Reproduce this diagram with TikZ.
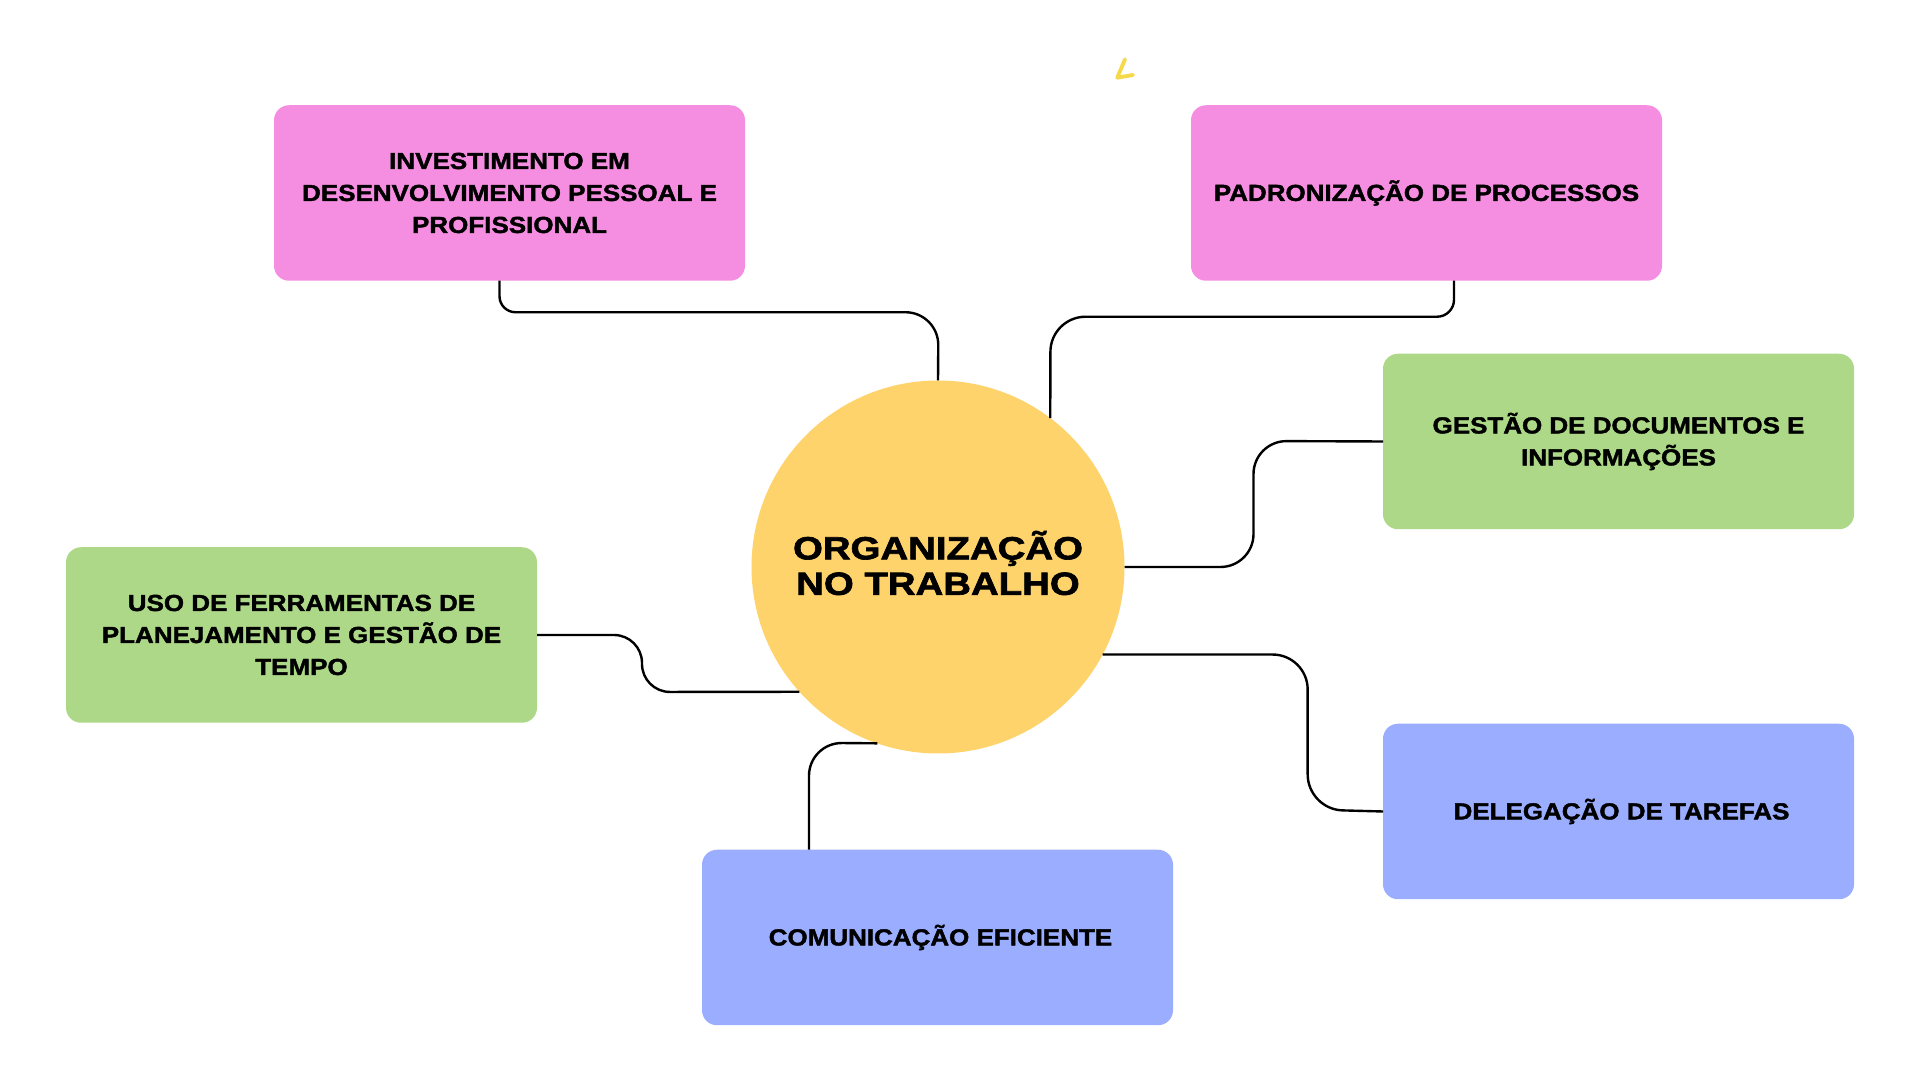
\documentclass[tikz,border=0pt]{standalone}
\usepackage{fontspec}
\newfontfamily\boxfont[FakeStretch=1.12,FakeBold=1.8]{Liberation Sans Bold}
\newfontfamily\hubfont[FakeStretch=1.2,FakeBold=2]{Liberation Sans Bold}
\usetikzlibrary{calc}
\definecolor{pink}{HTML}{F58EE1}
\definecolor{leaf}{HTML}{ACD887}
\definecolor{periwinkle}{HTML}{9BADFF}
\definecolor{sun}{HTML}{FFD36B}
\definecolor{scribble}{HTML}{F5D94A}

\begin{document}
\begin{tikzpicture}[
  font=\boxfont,
  card/.style={rounded corners=1.5mm, minimum width=4.71cm, minimum height=1.755cm,
               inner sep=0pt, outer sep=0pt, align=center, text=black,
               font=\boxfont\fontsize{6.6}{9.1}\selectfont},
  pinkcard/.style={card, fill=pink},
  leafcard/.style={card, fill=leaf},
  bluecard/.style={card, fill=periwinkle},
  hub/.style={circle, fill=sun, minimum size=3.73cm, inner sep=0pt, outer sep=0pt},
  hubtext/.style={align=center, inner sep=0pt, text=black,
                  font=\hubfont\fontsize{9.1}{10.1}\selectfont},
  link/.style={line width=0.68pt, draw=black}
]
\useasboundingbox (0,0) rectangle (19.2,10.8);

\node[hub] (hub) at (9.38,5.13) {};
\node[hubtext] (title) at (9.38,5.17) {ORGANIZAÇÃO\\NO TRABALHO};

\node[pinkcard] (invest) at (5.095,8.87)
  {INVESTIMENTO EM\\DESENVOLVIMENTO PESSOAL E\\PROFISSIONAL};
\node[pinkcard] (padrao) at (14.265,8.87) {PADRONIZAÇÃO DE PROCESSOS};
\node[leafcard] (docs) at (16.185,6.385) {GESTÃO DE DOCUMENTOS E\\INFORMAÇÕES};
\node[leafcard] (tools) at (3.015,4.45)
  {USO DE FERRAMENTAS DE\\PLANEJAMENTO E GESTÃO DE\\TEMPO};
\node[bluecard] (deleg) at (16.185,2.685) {\hspace*{0.06cm}DELEGAÇÃO DE TAREFAS};
\node[bluecard] (comms) at (9.375,1.425) {\hspace*{0.06cm}COMUNICAÇÃO EFICIENTE};

\draw[link, rounded corners=1.6mm] ($(invest.south)+(-0.10,0)$) -- ++(0,-0.315)
  [rounded corners=3.3mm] -- ++(4.39,0) -- (hub.north);
\draw[link, rounded corners=1.7mm] ($(padrao.south)+(0.275,0)$) -- ++(0,-0.36)
  [rounded corners=3.5mm] -- ++(-4.035,0) -- (hub.53);
\draw[link, rounded corners=3.3mm] (hub.east) -- ++(1.29,0) -- ++(0,1.26) -- (docs.west);
\draw[link, rounded corners=3.5mm] (hub.-28.7) -- ++(2.05,0) -- ++(0,-1.549) -- (deleg.west);
\draw[link, rounded corners=2.8mm] (tools.east) -- ++(1.05,0) -- ++(0,-0.57) -- (hub.222);
\draw[link, rounded corners=3.3mm] ($(comms.north)+(-1.285,0)$) -- ++(0,1.07) -- (hub.251);

\draw[scribble, line width=1.1pt, line cap=round, line join=round]
  (11.25,10.207) -- (11.173,10.023) -- (11.33,10.05);

\end{tikzpicture}
\end{document}
